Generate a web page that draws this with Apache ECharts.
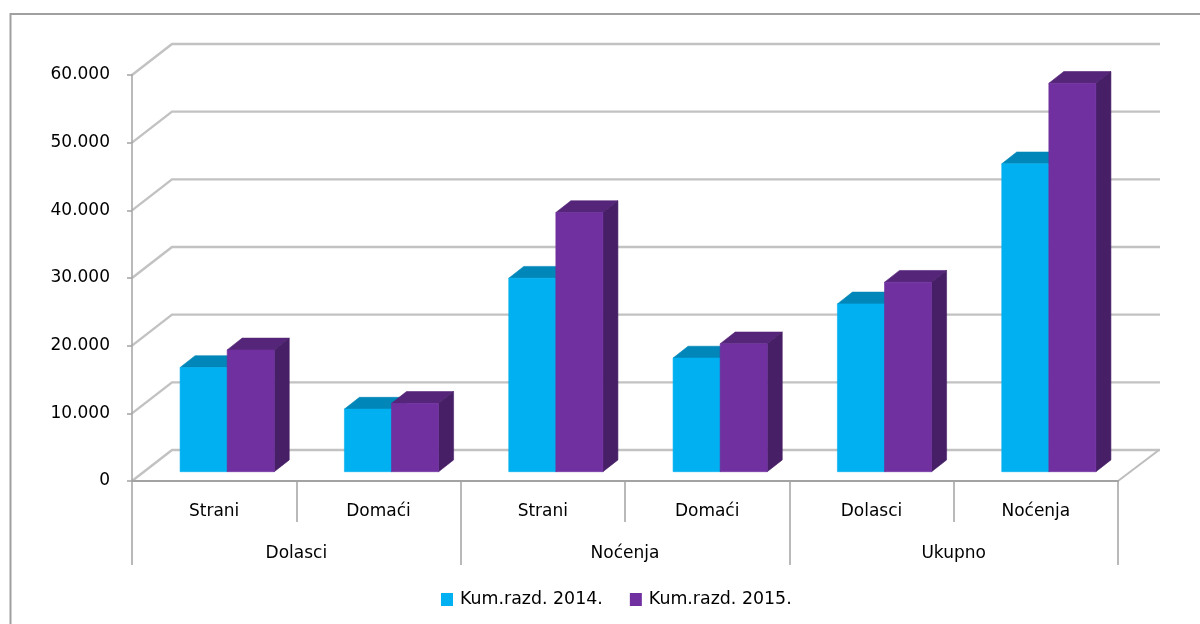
<!DOCTYPE html>
<html><head><meta charset="utf-8">
<style>html,body{margin:0;padding:0;background:#fff}#c{width:1200px;height:624px}</style>
<script src="https://cdn.jsdelivr.net/npm/echarts@6/dist/echarts.min.js"></script>
</head><body><div id="c"></div>
<script>
const subCategories = ['Strani','Domaći','Strani','Domaći','Dolasci','Noćenja'];
const groupCategories = ['Dolasci','Noćenja','Ukupno'];
const yTicks = [0,10000,20000,30000,40000,50000,60000];
const series2014Name = 'Kum.razd. 2014.';
const series2015Name = 'Kum.razd. 2015.';
const values2014 = [15400,9250,28600,16800,24800,45500];
const values2015 = [18000,10100,38300,18900,28000,57400];

const FONT = '"DejaVu Sans"';
const TEXT = '#000000';
const AXIS = '#a3a3a3';
const depthX = 40, depthY = -31;

function poly(points, fill, z2){
  return {type:'polygon', z2:z2||0, shape:{points}, style:{fill, stroke:fill, lineWidth:0.6}};
}
function barSeries(name, values, idx, front, top, side){
  return {
    type:'custom', name, coordinateSystem:'cartesian2d', xAxisIndex:0, yAxisIndex:0, z:5+idx, clip:false,
    itemStyle:{color:front},
    encode:{x:0,y:1},
    data:values.map((v,i)=>[i,v]),
    renderItem(params, api){
      const cw = api.size([1,0])[0];
      const c = api.coord([api.value(0), api.value(1)]);
      const b = api.coord([api.value(0), 0]);
      const w = cw*0.2865;
      const sx = c[0] + depthX*0.325 + (idx-1)*w;
      const ex = sx + w;
      const ty = c[1] + depthY*0.3;
      const by = b[1] + depthY*0.3;
      const ddx = 15, ddy = depthY*0.38;
      return {type:'group', children:[
        poly([[sx,ty],[ex,ty],[ex+ddx,ty+ddy],[sx+ddx,ty+ddy]], top),
        poly([[ex,ty],[ex+ddx,ty+ddy],[ex+ddx,by+ddy],[ex,by]], side),
        poly([[sx,ty],[ex,ty],[ex,by],[sx,by]], front)
      ]};
    }
  };
}
const wallSeries = {
  type:'custom', name:'walls', coordinateSystem:'cartesian2d', xAxisIndex:0, yAxisIndex:0, z:1, clip:false, silent:true,
  legendHoverLink:false,
  data:yTicks.map(v=>[0,v]),
  renderItem(params, api){
    const p = api.coord([0, api.value(1)]);
    const cs = params.coordSys;
    const x0 = cs.x, x1 = cs.x+cs.width, y = p[1];
    const mk = (a,b,c,col,lw)=>({type:'polyline', shape:{points:[a,b].concat(c?[c]:[])},
      style:{fill:null, stroke:col, lineWidth:lw}});
    const kids = [
      mk([x0,y],[x0+depthX,y+depthY],[x1+depthX+2,y+depthY],'#c2c2c2',2.4)
    ];
    if(api.value(1)===0) kids.push(mk([x1,y],[x1+depthX+1,y+depthY],null,'#bdbdbd',2));
    return {type:'group', children:kids};
  }
};

const chart = echarts.init(document.getElementById('c'), null, {renderer:'canvas'});
chart.setOption({
  animation:false,
  backgroundColor:'#ffffff',
  grid:{left:132, right:82, top:75, bottom:143, containLabel:false},
  graphic:[{type:'polyline', z:0, silent:true, shape:{points:[[10.5,624],[10.5,14],[1200,14]]},
    style:{fill:null, stroke:'#a0a0a0', lineWidth:2}}],
  legend:{
    data:[series2014Name, series2015Name], left:441, top:588, itemWidth:12, itemHeight:13, itemGap:27, padding:[3,0,3,0],
    icon:'rect', textStyle:{fontFamily:FONT, fontSize:17.4, color:TEXT, padding:[0,0,0,2]}
  },
  xAxis:[
    {type:'category', data:subCategories, position:'bottom', z:3,
     axisLine:{show:true, lineStyle:{color:AXIS, width:2}},
     axisTick:{show:true, length:41, lineStyle:{color:AXIS, width:1.5}},
     axisLabel:{margin:22, fontFamily:FONT, fontSize:17, color:TEXT, interval:0},
     splitLine:{show:false}},
    {type:'category', data:groupCategories, position:'bottom', offset:0, z:3,
     axisLine:{show:false},
     axisTick:{show:true, length:84, lineStyle:{color:AXIS, width:1.5}},
     axisLabel:{margin:64, fontFamily:FONT, fontSize:17, color:TEXT, interval:0},
     splitLine:{show:false}}
  ],
  yAxis:{type:'value', min:0, max:60000, interval:10000, z:3,
    axisLine:{show:true, lineStyle:{color:AXIS, width:1.5}},
    axisTick:{show:true, length:5, lineStyle:{color:AXIS, width:1.5}},
    axisLabel:{margin:22, fontFamily:FONT, fontSize:17, color:TEXT, padding:[5,0,0,0],
      formatter:v=>v===0?'0':String(v/1000)+'.000'},
    splitLine:{show:false}},
  series:[
    wallSeries,
    barSeries(series2014Name, values2014, 0, '#00b0f0', '#0086b8', '#006f99'),
    barSeries(series2015Name, values2015, 1, '#7030a0', '#552579', '#461f66')
  ]
});
</script></body></html>
